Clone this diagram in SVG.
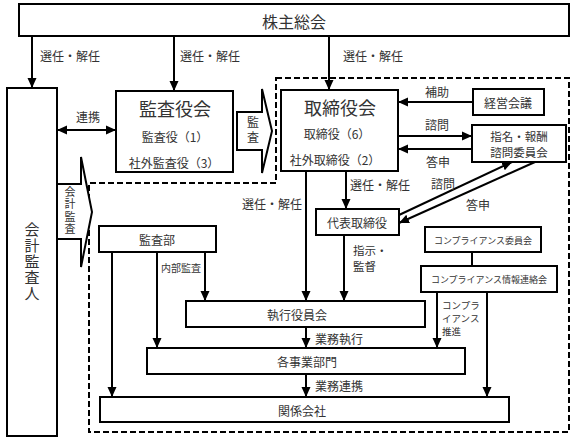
<svg xmlns="http://www.w3.org/2000/svg" width="576" height="441" viewBox="0 0 576 441">
<style>
.b{fill:#fff;stroke:#000;stroke-width:2}
.t{font-family:"Noto Sans CJK JP","Noto Sans",sans-serif;fill:#333;dominant-baseline:central}
.m{text-anchor:middle}
.v{writing-mode:vertical-rl;text-anchor:middle;font-family:"Noto Sans CJK JP","Noto Sans",sans-serif;fill:#333}
.c line,.c path{stroke:#000;stroke-width:2;fill:none}
.a{marker-end:url(#ah)}
</style>
<defs>
<marker id="ah" markerUnits="userSpaceOnUse" markerWidth="10" markerHeight="10" viewBox="0 0 10 10" refX="10" refY="5" orient="auto"><path d="M0,0.5 L10,5 L0,9.5 Z" fill="#000"/></marker>
<marker id="as" markerUnits="userSpaceOnUse" markerWidth="10" markerHeight="10" viewBox="0 0 10 10" refX="0" refY="5" orient="auto"><path d="M10,0.5 L0,5 L10,9.5 Z" fill="#000"/></marker>
</defs>
<rect width="576" height="441" fill="#fff"/>
<path d="M276,78 H569 V432 H89 V183 H276 Z" fill="none" stroke="#000" stroke-width="2" stroke-dasharray="6,3"/>

<g class="c" id="connectors">
<line class="a" x1="32" y1="36" x2="32" y2="88"/>
<line class="a" x1="174" y1="36" x2="174" y2="91"/>
<line class="a" x1="329" y1="36" x2="329" y2="90"/>
<line x1="57" y1="130" x2="116" y2="130" marker-start="url(#as)" marker-end="url(#ah)"/>
<line class="a" x1="473" y1="102" x2="398" y2="102"/>
<line class="a" x1="398" y1="136" x2="472" y2="136"/>
<line class="a" x1="472" y1="149" x2="398" y2="149"/>
<line class="a" x1="346" y1="171" x2="346" y2="209"/>
<line class="a" x1="399" y1="215" x2="512" y2="162"/>
<line class="a" x1="535" y1="162" x2="399" y2="223"/>
<line class="a" x1="306" y1="171" x2="306" y2="301"/>
<line class="a" x1="344" y1="235" x2="344" y2="301"/>
<line class="a" x1="306" y1="327" x2="306" y2="348"/>
<line class="a" x1="306" y1="374" x2="306" y2="397"/>
<line class="a" x1="112" y1="252" x2="112" y2="397"/>
<line class="a" x1="157" y1="252" x2="157" y2="348"/>
<line class="a" x1="205" y1="252" x2="205" y2="301"/>
<line x1="472" y1="252" x2="472" y2="266"/>
<line class="a" x1="437" y1="292" x2="437" y2="348"/>
<line class="a" x1="487" y1="292" x2="487" y2="397"/>
</g>

<g id="labels">
<text class="t" x="40" y="55" font-size="12">選任・解任</text>
<text class="t" x="180" y="55" font-size="12">選任・解任</text>
<text class="t" x="343" y="55" font-size="12">選任・解任</text>
<text class="t m" x="88" y="116" font-size="12">連携</text>
<text class="t m" x="437" y="91" font-size="12">補助</text>
<text class="t m" x="437" y="124" font-size="12">諮問</text>
<text class="t m" x="438" y="161" font-size="12">答申</text>
<text class="t" x="350" y="184" font-size="12">選任・解任</text>
<text class="t m" x="443" y="183" font-size="12">諮問</text>
<text class="t m" x="478" y="204" font-size="12">答申</text>
<text class="t" x="242" y="203" font-size="12">選任・解任</text>
<text class="t" x="353" y="250" font-size="11.5">指示・</text>
<text class="t" x="353" y="266" font-size="11.5">監督</text>
<text class="t" x="161" y="267" font-size="10">内部監査</text>
<text class="t" x="315" y="338" font-size="12">業務執行</text>
<text class="t" x="315" y="385" font-size="12">業務連携</text>
<text class="t" x="442" y="305" font-size="9.5">コンプラ</text>
<text class="t" x="442" y="318" font-size="9.5">イアンス</text>
<text class="t" x="442" y="331" font-size="9.5">推進</text>
</g>

<g id="kansa-arrow">
<polygon points="237,112 262,112 262,89 272,131 262,173 262,150 237,150" class="b"/>
<text class="v" x="253" y="131" font-size="12" letter-spacing="3">監査</text>
</g>

<g id="kaikei-kansa-arrow">
<polygon points="57,184 81,184 81,157 92,212 81,267 81,239 57,239" class="b"/>
<text class="v" x="70" y="211" font-size="11" letter-spacing="1.5">会計監査</text>
</g>

<g id="kabunushi">
<rect class="b" x="19" y="4" width="550" height="32"/>
<text class="t m" x="294" y="21" font-size="16">株主総会</text>
</g>

<g id="kaikei">
<rect class="b" x="7" y="88" width="50" height="348"/>
<text class="v" x="32" y="262" font-size="15" letter-spacing="1">会計監査人</text>
</g>

<g id="kansayakukai">
<rect class="b" x="116" y="91" width="117" height="81"/>
<text class="t m" x="175" y="108" font-size="18">監査役会</text>
<text class="t m" x="175" y="136" font-size="12">監査役（1）</text>
<text class="t m" x="174" y="162" font-size="12">社外監査役（3）</text>
</g>

<g id="torishimariyakukai">
<rect class="b" x="281" y="90" width="117" height="81"/>
<text class="t m" x="340" y="107" font-size="18">取締役会</text>
<text class="t m" x="337" y="133" font-size="12">取締役（6）</text>
<text class="t m" x="335" y="159" font-size="12">社外取締役（2）</text>
</g>

<g id="keiei">
<rect class="b" x="473" y="89" width="71" height="26"/>
<text class="t m" x="508" y="102" font-size="12">経営会議</text>
</g>

<g id="shimei">
<rect class="b" x="472" y="125" width="94" height="37"/>
<text class="t m" x="519" y="136" font-size="11.5">指名・報酬</text>
<text class="t m" x="519" y="152" font-size="11.5">諮問委員会</text>
</g>

<g id="daihyo">
<rect class="b" x="316" y="209" width="83" height="26"/>
<text class="t m" x="357" y="222" font-size="12">代表取締役</text>
</g>

<g id="kansabu">
<rect class="b" x="99" y="226" width="117" height="26"/>
<text class="t m" x="157" y="239" font-size="12">監査部</text>
</g>

<g id="compliance-iinkai">
<rect class="b" x="425" y="227" width="116" height="25"/>
<text class="t m" x="483" y="240" font-size="9">コンプライアンス委員会</text>
</g>

<g id="compliance-renraku">
<rect class="b" x="421" y="266" width="136" height="26"/>
<text class="t m" x="489" y="279" font-size="9">コンプライアンス情報連絡会</text>
</g>

<g id="shikko">
<rect class="b" x="186" y="301" width="239" height="26"/>
<text class="t m" x="297" y="314" font-size="12">執行役員会</text>
</g>

<g id="jigyobu">
<rect class="b" x="147" y="348" width="318" height="26"/>
<text class="t m" x="307" y="361" font-size="12">各事業部門</text>
</g>

<g id="kankei">
<rect class="b" x="100" y="397" width="409" height="25"/>
<text class="t m" x="302" y="410" font-size="12">関係会社</text>
</g>
</svg>
